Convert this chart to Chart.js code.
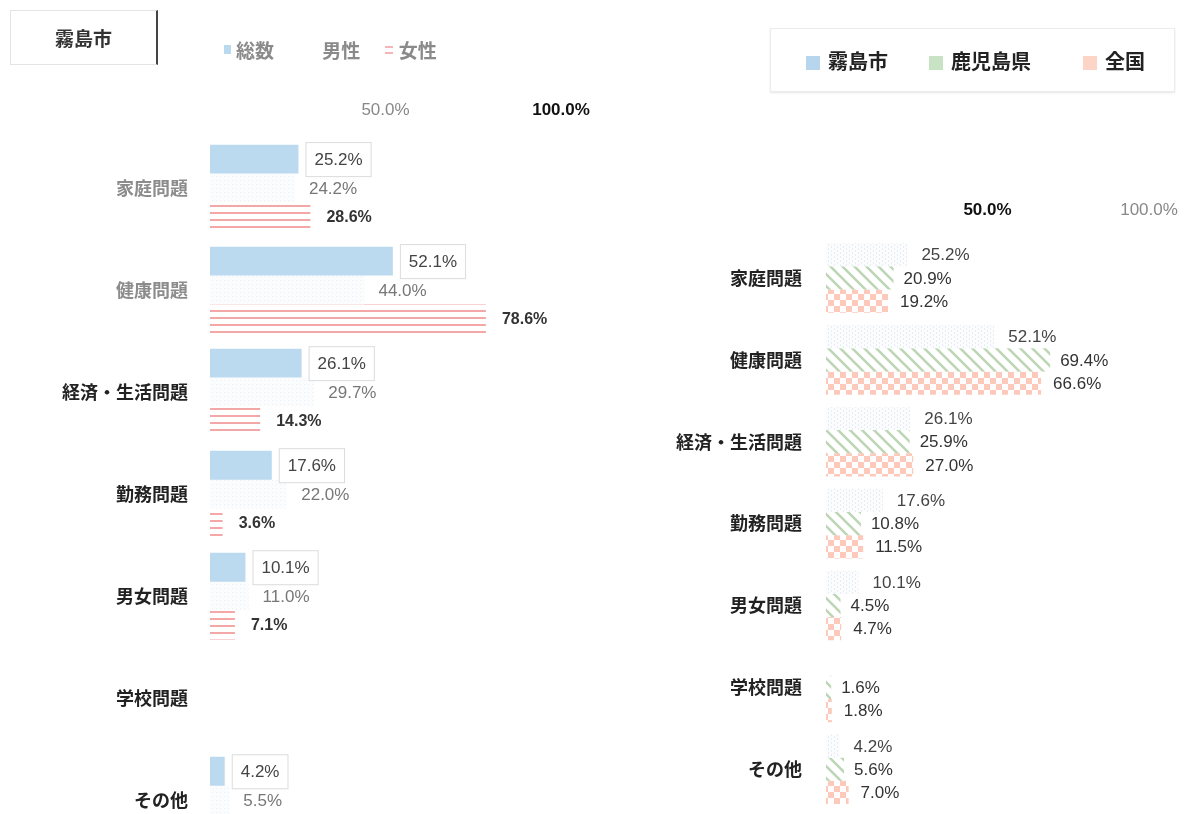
<!DOCTYPE html>
<html>
<head>
<meta charset="utf-8">
<script src="https://cdn.jsdelivr.net/npm/chart.js@4.4.1/dist/chart.umd.min.js"></script>
<style>
  body { margin: 0; width: 1190px; height: 814px; overflow: hidden; background: #fff; position: relative;
         font-family: "Noto Sans CJK JP", sans-serif; }
  #leftWrap { position: absolute; left: 0; top: 0; width: 600px; height: 876px; }
  #rightWrap { position: absolute; left: 600px; top: 0; width: 590px; height: 837px; }
  .cityBox { position: absolute; left: 10px; top: 10px; width: 148px; height: 55px; box-sizing: border-box;
             border: 1px solid #e4e4e4; border-right: 2px solid #444; font-weight: bold; font-size: 19px; color: #333;
             display: flex; align-items: center; justify-content: center; }
  .leftLegend { position: absolute; left: 224px; top: 33px; font-weight: bold; font-size: 19px; color: #8a8a8a; white-space: nowrap; }
  .leftLegend span { display: inline-block; vertical-align: middle; }
  .rightLegend { position: absolute; left: 770px; top: 28px; width: 405px; height: 64px; box-sizing: border-box;
                 border: 1px solid #ececec; box-shadow: 0 1px 2px #e6e6e6; font-weight: bold; font-size: 20px; color: #222; }
  .rightLegend .item { position: absolute; top: 17px; white-space: nowrap; }
  .sw { display: inline-block; width: 14px; height: 14px; margin-right: 8px; vertical-align: -1px; }
</style>
</head>
<body>
<div id="leftWrap"><canvas id="leftChart" width="600" height="876"></canvas></div>
<div id="rightWrap"><canvas id="rightChart" width="590" height="837"></canvas></div>

<div class="cityBox">霧島市</div>
<div class="leftLegend">
  <span style="width:7px;height:9px;background:#b9d9ee;margin-right:5px"></span><span>総数</span>
  <span style="margin-left:44px">男性</span>
  <span style="width:8px;height:8px;border-top:2px solid #f6b6b6;border-bottom:2px solid #f6b6b6;box-sizing:border-box;margin-left:20px;margin-right:6px"></span><span>女性</span>
</div>
<div class="rightLegend">
  <div class="item" style="left:35px"><span class="sw" style="background:#b8d5ee"></span>霧島市</div>
  <div class="item" style="left:158px"><span class="sw" style="background:#c8e2c4"></span>鹿児島県</div>
  <div class="item" style="left:312px"><span class="sw" style="background:#fdd5c6"></span>全国</div>
</div>

<script>
const categories = ['家庭問題', '健康問題', '経済・生活問題', '勤務問題', '男女問題', '学校問題', 'その他']

// left chart: 霧島市 by gender
const genderLabels = ['総数', '男性', '女性']
const totalValues = [25.2, 52.1, 26.1, 17.6, 10.1, null, 4.2]
const maleValues = [24.2, 44.0, 29.7, 22.0, 11.0, null, 5.5]
const femaleValues = [28.6, 78.6, 14.3, 3.6, 7.1, null, null]

// right chart: comparison
const areaLabels = ['霧島市', '鹿児島県', '全国']
const kirishimaValues = [25.2, 52.1, 26.1, 17.6, 10.1, null, 4.2]
const kagoshimaValues = [20.9, 69.4, 25.9, 10.8, 4.5, 1.6, 5.6]
const zenkokuValues = [19.2, 66.6, 27.0, 11.5, 4.7, 1.8, 7.0]

const axisTicks = [0, 50, 100]

const labelFont = "'Liberation Sans Narrow', 'Liberation Sans', Arial, sans-serif"

function makePattern(ctx, w, h, draw){
    const c = document.createElement('canvas')
    c.width = w
    c.height = h
    const g = c.getContext('2d')
    draw(g)
    return ctx.createPattern(c, 'repeat')
}

// draws the value text next to each bar
const valueLabels = {
    id: 'valueLabels',
    afterDatasetsDraw(chart){
        const ctx = chart.ctx
        chart.data.datasets.forEach((ds, i) => {
            const meta = chart.getDatasetMeta(i)
            meta.data.forEach((bar, j) => {
                const v = ds.data[j]
                if(v == null) return
                const text = v.toFixed(1) + '%'
                ctx.save()
                ctx.font = (ds.labelBold ? 'bold ' : '') + ds.labelSize + 'px ' + labelFont
                ctx.textBaseline = 'middle'
                ctx.textAlign = 'left'
                const x = bar.x + ds.labelOffset
                const y = bar.y
                if(ds.labelBox){
                    const w = ctx.measureText(text).width
                    ctx.fillStyle = '#fff'
                    ctx.fillRect(x - 1, y - 17, w + 18, 35)
                    ctx.strokeStyle = '#dcdcdc'
                    ctx.lineWidth = 1
                    ctx.strokeRect(x - 0.5, y - 16.5, w + 17, 34)
                    ctx.fillStyle = ds.labelColor
                    ctx.fillText(text, x + 8, y + 1)
                } else {
                    ctx.fillStyle = ds.labelColor
                    ctx.fillText(text, x, y + 1)
                }
                ctx.restore()
            })
        })
    }
}

function xScale(min, max, fontFor, colorFor, height){
    return {
        position: 'top',
        min: min,
        max: max,
        afterBuildTicks: s => { s.ticks = axisTicks.map(v => ({ value: v })) },
        afterFit: s => { s.height = height },
        grid: { display: false },
        border: { display: false },
        ticks: {
            padding: 8,
            callback: v => v === 0 ? '' : v.toFixed(1) + '%',
            font: fontFor,
            color: colorFor
        }
    }
}

function setLeftChart(){
    const canvas = document.getElementById('leftChart')
    const ctx = canvas.getContext('2d')
    const blue = '#bcdaef'
    const maleFill = makePattern(ctx, 4, 4, g => {
        g.fillStyle = '#fbfcfd'
        g.fillRect(0, 0, 4, 4)
        g.fillStyle = '#eceff3'
        g.fillRect(0, 0, 1, 1)
    })
    const femaleFill = makePattern(ctx, 8, 7, g => {
        g.fillStyle = '#ffffff'
        g.fillRect(0, 0, 8, 7)
        g.fillStyle = '#f4a7a7'
        g.fillRect(0, 2, 8, 2)
    })
    new Chart(ctx, {
        type: 'bar',
        data: {
            labels: categories,
            datasets: [
                { label: genderLabels[0], data: totalValues, backgroundColor: blue,
                  labelColor: '#444', labelSize: 17, labelOffset: 8, labelBox: true },
                { label: genderLabels[1], data: maleValues, backgroundColor: maleFill,
                  labelColor: '#777', labelSize: 17, labelOffset: 14 },
                { label: genderLabels[2], data: femaleValues, backgroundColor: femaleFill,
                  labelColor: '#333', labelSize: 16, labelOffset: 16, labelBold: true }
            ]
        },
        options: {
            indexAxis: 'y',
            responsive: false,
            animation: false,
            categoryPercentage: 0.85,
            barPercentage: 1.0,
            layout: { padding: { left: 0, right: 39, top: 0, bottom: 9 } },
            plugins: { legend: { display: false }, tooltip: { enabled: false } },
            scales: {
                x: xScale(0, 100,
                    c => ({ size: 17, weight: c.tick && c.tick.value === 100 ? 'bold' : 'normal', family: labelFont }),
                    c => c.tick && c.tick.value === 100 ? '#111' : '#888', 137),
                y: {
                    afterFit: s => { s.width = 210 },
                    grid: { display: false },
                    border: { display: false },
                    ticks: {
                        padding: 14,
                        font: { size: 18, weight: 'bold', family: "'Noto Sans CJK JP'" },
                        color: c => c.index < 2 ? '#8c8c8c' : '#222'
                    }
                }
            }
        },
        plugins: [valueLabels]
    })
}

function setRightChart(){
    const canvas = document.getElementById('rightChart')
    const ctx = canvas.getContext('2d')
    const kirishimaFill = makePattern(ctx, 6, 4, g => {
        g.fillStyle = '#fbfcfd'
        g.fillRect(0, 0, 6, 4)
        g.fillStyle = '#e9ecf0'
        g.fillRect(0, 0, 1, 2)
        g.fillRect(3, 2, 1, 2)
    })
    const kagoshimaFill = makePattern(ctx, 12, 12, g => {
        g.fillStyle = '#ffffff'
        g.fillRect(0, 0, 12, 12)
        g.strokeStyle = '#bcd6b6'
        g.lineWidth = 2.5
        g.beginPath()
        g.moveTo(-2, -2); g.lineTo(14, 14)
        g.moveTo(-14, -2); g.lineTo(2, 14)
        g.moveTo(10, -2); g.lineTo(26, 14)
        g.stroke()
    })
    const zenkokuFill = makePattern(ctx, 12, 12, g => {
        g.fillStyle = '#ffffff'
        g.fillRect(0, 0, 12, 12)
        g.fillStyle = '#fcc9bb'
        g.fillRect(0, 0, 6, 6)
        g.fillRect(6, 6, 6, 6)
    })
    new Chart(ctx, {
        type: 'bar',
        data: {
            labels: categories,
            datasets: [
                { label: areaLabels[0], data: kirishimaValues, backgroundColor: kirishimaFill,
                  labelColor: '#444', labelSize: 17, labelOffset: 14 },
                { label: areaLabels[1], data: kagoshimaValues, backgroundColor: kagoshimaFill,
                  labelColor: '#333', labelSize: 17, labelOffset: 10 },
                { label: areaLabels[2], data: zenkokuValues, backgroundColor: zenkokuFill,
                  labelColor: '#333', labelSize: 17, labelOffset: 12 }
            ]
        },
        options: {
            indexAxis: 'y',
            responsive: false,
            animation: false,
            categoryPercentage: 0.85,
            barPercentage: 1.0,
            layout: { padding: { left: 0, right: 41, top: 0, bottom: 5 } },
            plugins: { legend: { display: false }, tooltip: { enabled: false } },
            scales: {
                x: xScale(0, 100,
                    c => ({ size: 17, weight: c.tick && c.tick.value === 50 ? 'bold' : 'normal', family: labelFont }),
                    c => c.tick && c.tick.value === 50 ? '#111' : '#888', 237),
                y: {
                    afterFit: s => { s.width = 226 },
                    grid: { display: false },
                    border: { display: false },
                    ticks: {
                        padding: 16,
                        font: { size: 18, weight: 'bold', family: "'Noto Sans CJK JP'" },
                        color: '#222'
                    }
                }
            }
        },
        plugins: [valueLabels]
    })
}

setLeftChart()
setRightChart()
</script>
</body>
</html>
